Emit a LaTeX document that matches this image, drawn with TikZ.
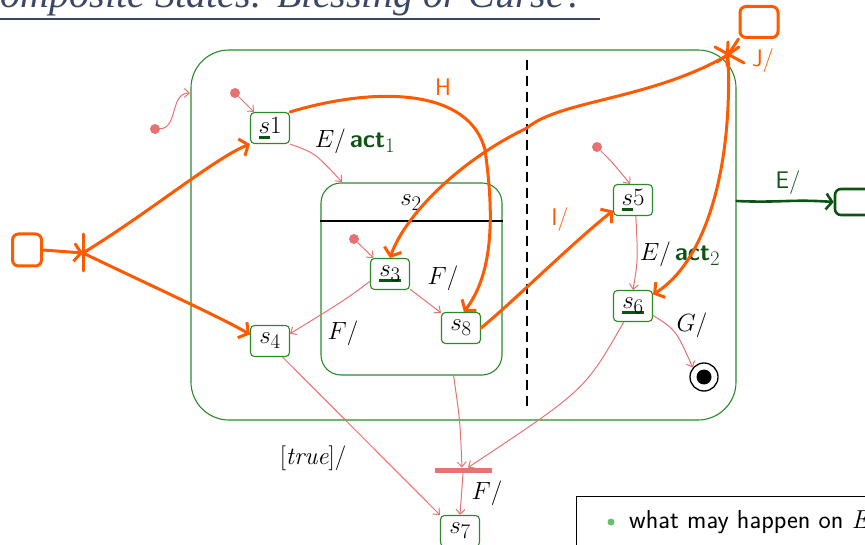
\documentclass[tikz,border=0pt]{standalone}
\usepackage{fontspec}
\newfontfamily\titlefont{Liberation Serif}
\usetikzlibrary{arrows.meta,calc}
\definecolor{stgreen}{HTML}{2A8A2A}
\definecolor{trred}{HTML}{E77272}
\definecolor{handorange}{HTML}{FF5A00}
\definecolor{handgreen}{HTML}{0E5214}
\definecolor{titleblue}{HTML}{3A4766}
\definecolor{bulletgreen}{HTML}{66C266}
\newcommand{\stfont}{\Huge}
\newsavebox{\ulbox}
\newcommand{\ulg}[1]{\sbox{\ulbox}{#1}\rlap{\color{handgreen}\rule[-5pt]{\wd\ulbox}{2.4pt}}\usebox{\ulbox}}
\newcommand{\act}[1]{{\color{handgreen}\sffamily\bfseries act$_{#1}$}}

\begin{document}
\begin{tikzpicture}[x=1pt, y=-1pt,
  state/.style={draw=stgreen, line width=1.1pt, rounded corners=4pt, fill=white,
                minimum width=39pt, minimum height=31pt, inner sep=0pt, font=\stfont},
  comp/.style={draw=stgreen, line width=1.1pt, inner sep=0pt},
  dot/.style={circle, fill=trred, minimum size=10pt, inner sep=0pt},
  trans/.style={draw=trred, line width=1pt, -{Straight Barb[length=5pt,width=9pt]}},
  lbl/.style={font=\stfont, inner sep=1pt},
  hand/.style={draw=handorange, line width=3pt, line cap=round, line join=round},
  handtip/.style={-{Straight Barb[length=7pt,width=18pt]}},
  handtxt/.style={text=handorange, font=\sffamily\fontsize{24}{28}\selectfont, inner sep=0pt}
]
  \clip (0,0) rectangle (865,545);

  \node[anchor=base west, inner sep=0pt, text=titleblue,
        font=\titlefont\itshape\fontsize{40}{44}\selectfont] (title) at (-26,8)
        {Composite States: Blessing or Curse?};
  \draw[titleblue, line width=2.5pt] (0,19) -- (600,19);

  \node[comp, rounded corners=38pt, minimum width=545pt, minimum height=370pt] (outer) at (463.5,235) {};
  \draw[dashed, dash pattern=on 10pt off 6pt, line width=1.2pt] (527,60) -- (527,412);

  \node[comp, rounded corners=20pt, minimum width=181pt, minimum height=192pt] (s2) at (411.5,279) {};
  \draw[line width=1.8pt] (s2.west |- 0,221) -- (s2.east |- 0,221);
  \node[lbl] (s2name) at (411,203) {$s_2$};

  \node[state] (s1) at (270,128) {\ulg{$s$}$1$};
  \node[state] (s3) at (390,274) {\ulg{$s_3$}};
  \node[state] (s8) at (461,328) {$s_8$};
  \node[state] (s4) at (270,341) {$s_4$};
  \node[state] (s5) at (633,200) {\ulg{$s$}$5$};
  \node[state] (s6) at (633,306) {\ulg{$s_6$}};
  \node[state] (s7) at (460,531) {$s_7$};
  \node[circle, draw, line width=1.3pt, minimum size=28pt, inner sep=0pt] (fin) at (704,377) {};
  \fill (fin) circle (7.5);
  \node[fill=trred, minimum width=57pt, minimum height=5.5pt, inner sep=0pt] (join) at (463,470.5) {};

  \node[dot] (i0) at (155,129) {};
  \node[dot] (i1) at (235,93) {};
  \node[dot] (i2) at (354,239) {};
  \node[dot] (i3) at (597,147) {};
  \coordinate (outin) at (190,93);
  \coordinate (s2in) at (342,182);

  \draw[trans] (i0) .. controls (178,128) and (170,93) .. (outin);
  \draw[trans] (i1) -- (s1);
  \draw[trans] (i2) -- (s3);
  \draw[trans] (i3) .. controls (612,162) .. (s5.100);
  \draw[trans] (s1.south east) .. controls (315,153) .. (s2in);
  \draw[trans] (s3) -- (s8);
  \draw[trans] (s3.200) .. controls (345,300) .. (s4.20);
  \draw[trans] (s4.-52) -- (s7.north west);
  \draw[trans] (s5.-80) .. controls (638,260) .. (s6.north);
  \draw[trans] (s6.-25) .. controls (676,330) .. (fin.140);
  \draw[trans] ($(s2.south east)+(-49,0)$) .. controls (460,420) .. ($(join.north)+(-1,0)$);
  \draw[trans] (s6.-120) .. controls (585,390) .. ($(join.north)+(5,0)$);
  \draw[trans] (join.south) -- (s7.north);

  \node[lbl] (l1) at (355,141) {$E/$\,\act{1}};
  \node[lbl] (l2) at (443,278) {$F/$};
  \node[lbl] (l3) at (343,333) {$F/$};
  \node[lbl] (l4) at (680,254) {$E/$\,\act{2}};
  \node[lbl] (l5) at (692,325) {$G/$};
  \node[lbl] (l6) at (313,458) {$[\mathit{true}]/$};
  \node[lbl] (l7) at (487,493) {$F/$};

  % handwritten additions
  \node[hand, rounded corners=6pt, minimum width=29pt, minimum height=32pt] (src) at (27,250) {};
  \coordinate (fork) at (83,253);
  \draw[hand] (83,234) -- (83,271);
  \draw[hand, handtip] (src.east) -- (fork);
  \draw[hand, handtip] (fork) .. controls (150,212) and (215,158) .. (s1.south west);
  \draw[hand, handtip] (fork) .. controls (160,290) and (222,318) .. (s4.162);
  \draw[hand, handtip] (s1.north east) .. controls (380,85) and (470,90) .. (485,150)
        .. controls (495,220) and (492,275) .. (s8.80);
  \node[handtxt] (hlbl) at (443,87) {H};

  \node[hand, rounded corners=6pt, minimum width=38pt, minimum height=31pt] (dst) at (759,22) {};
  \coordinate (star) at (728,55);
  \draw[hand] (715,47) -- (744,63) (728,42) -- (727,66) (717,62) -- (739,47);
  \draw[hand] (dst.south west) -- (star);
  \node[handtxt] (jlbl) at (763,61) {J/};
  \draw[hand, handtip] (star) .. controls (650,100) and (560,100) .. (527,128)
        .. controls (460,160) and (405,215) .. (s3.north);
  \draw[hand, handtip] (star) .. controls (733,170) and (705,262) .. (s6.30);
  \draw[hand, handtip] (s8.east) .. controls (515,300) and (570,245) .. (s5.208);
  \node[handtxt] (ilbl) at (560,220) {I/};

  \node[draw=handgreen, line width=2.6pt, rounded corners=6pt, minimum width=50pt,
        minimum height=26pt] (exit) at (860,202) {};
  \draw[draw=handgreen, line width=2.6pt, line cap=round, -{Straight Barb[length=6pt,width=16pt]}]
        (outer.east |- 0,201) .. controls (780,203) and (790,199) .. (exit.west);
  \node[handtxt, text=handgreen] (elbl) at (788,183) {E/};

  \node[draw, line width=1pt, anchor=north west, minimum width=400pt, minimum height=80pt,
        inner sep=0pt] (note) at (576,496) {};
  \node[circle, fill=bulletgreen, minimum size=7pt, inner sep=0pt] (bul) at (611,522) {};
  \node[anchor=west, font=\sffamily\fontsize{26}{30}\selectfont, inner sep=0pt] (notetxt) at (629,522)
        {what may happen on $\mathit{E}$};
\end{tikzpicture}
\end{document}
